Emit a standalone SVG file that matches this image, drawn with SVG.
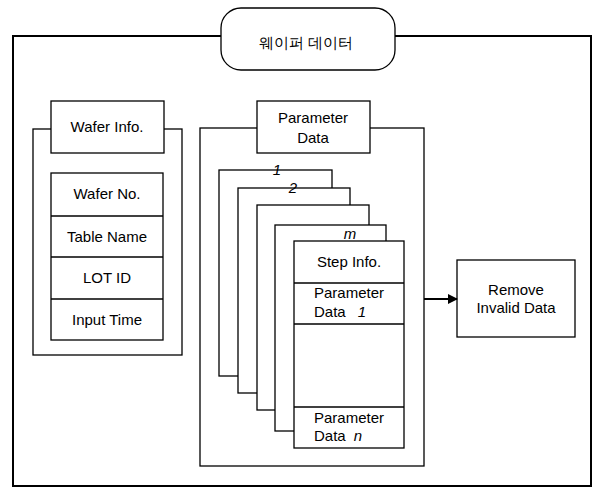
<svg xmlns="http://www.w3.org/2000/svg" width="593" height="489" viewBox="0 0 593 489">
<style>
.b{fill:#fff;stroke:#000;stroke-width:1.3}
.t{font-family:"Liberation Sans",Arial,sans-serif;font-size:15px;fill:#000}
.c{text-anchor:middle}
.i{font-style:italic}
</style>
<defs>
<marker id="ah" markerWidth="10" markerHeight="10" refX="9" refY="5" orient="auto" markerUnits="userSpaceOnUse">
<path d="M0,0 L10,5 L0,10 Z" fill="#000"/>
</marker>
</defs>
<rect width="593" height="489" fill="#fff"/>
<g id="frame">
<rect x="13" y="36" width="578" height="450" fill="none" stroke="#000" stroke-width="2"/>
</g>
<g id="title">
<rect x="221" y="8" width="174" height="62" rx="20" class="b" stroke-width="1.6"/>
<text x="306" y="48" class="t c" font-family="'Noto Sans CJK KR',sans-serif">웨이퍼 데이터</text>
</g>
<g id="wafer-info">
<rect x="33" y="129" width="149" height="226" class="b"/>
<rect x="51" y="101" width="113" height="52" class="b"/>
<text x="107" y="132" class="t c">Wafer Info.</text>
<rect x="51" y="173" width="112" height="167" class="b"/>
<line x1="51" y1="216" x2="163" y2="216" stroke="#000" stroke-width="1.3"/>
<line x1="51" y1="257" x2="163" y2="257" stroke="#000" stroke-width="1.3"/>
<line x1="51" y1="299" x2="163" y2="299" stroke="#000" stroke-width="1.3"/>
<text x="107" y="199" class="t c">Wafer No.</text>
<text x="107" y="242" class="t c">Table Name</text>
<text x="107" y="283" class="t c">LOT ID</text>
<text x="107" y="325" class="t c">Input Time</text>
</g>
<g id="parameter-data">
<rect x="200" y="128" width="224" height="338" class="b"/>
<rect x="257" y="101" width="113" height="52" class="b"/>
<text x="313" y="123" class="t c">Parameter</text>
<text x="313" y="143" class="t c">Data</text>
</g>
<g id="layer-1">
<rect x="219" y="170" width="113" height="206" class="b"/>
<text x="277" y="175" class="t c i">1</text>
</g>
<g id="layer-2">
<rect x="238" y="188" width="112" height="205" class="b"/>
<text x="293" y="193" class="t c i">2</text>
</g>
<g id="layer-3">
<rect x="257" y="205" width="112" height="205" class="b"/>
</g>
<g id="layer-m">
<rect x="275" y="225" width="111" height="206" class="b"/>
<text x="350" y="239" class="t c i">m</text>
</g>
<g id="step">
<rect x="294" y="241" width="110" height="207" class="b"/>
<line x1="294" y1="283" x2="404" y2="283" stroke="#000" stroke-width="1.3"/>
<line x1="294" y1="324" x2="404" y2="324" stroke="#000" stroke-width="1.3"/>
<line x1="294" y1="407" x2="404" y2="407" stroke="#000" stroke-width="1.3"/>
<text x="349" y="267" class="t c">Step Info.</text>
<text x="314" y="298" class="t">Parameter</text>
<text x="314" y="317" class="t">Data <tspan class="i" dx="8">1</tspan></text>
<text x="314" y="423" class="t">Parameter</text>
<text x="314" y="441" class="t">Data <tspan class="i" dx="4">n</tspan></text>
</g>
<g id="remove">
<rect x="457" y="260" width="118" height="77" class="b"/>
<text x="516" y="295" class="t c">Remove</text>
<text x="516" y="313" class="t c">Invalid Data</text>
</g>
<g id="connectors">
<line x1="424" y1="299" x2="457" y2="299" stroke="#000" stroke-width="2" marker-end="url(#ah)"/>
</g>
</svg>
